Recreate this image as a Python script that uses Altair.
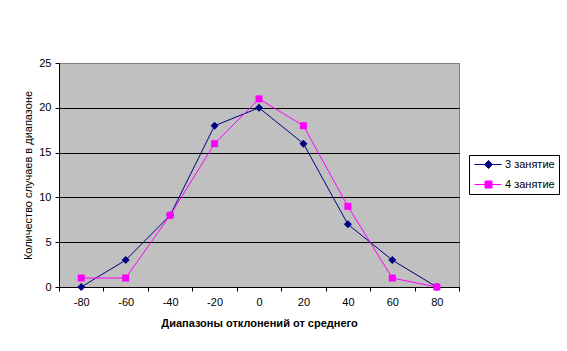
import altair as alt
import pandas as pd

categories = ["-80", "-60", "-40", "-20", "0", "20", "40", "60", "80"]
series_names = ["3 занятие", "4 занятие"]
values_3 = [0, 3, 8, 18, 20, 16, 7, 3, 0]
values_4 = [1, 1, 8, 16, 21, 18, 9, 1, 0]

rows = []
for c, v in zip(categories, values_3):
    rows.append({"cat": c, "value": v, "series": series_names[0]})
for c, v in zip(categories, values_4):
    rows.append({"cat": c, "value": v, "series": series_names[1]})
df = pd.DataFrame(rows)

colors = ["#000080", "#FF00FF"]
FONT = "Liberation Sans"

x_enc = alt.X(
    "cat:O",
    scale=alt.Scale(type="band", domain=categories, paddingInner=0, paddingOuter=0),
    axis=alt.Axis(
        title="Диапазоны отклонений от среднего",
        labelAngle=0,
        tickBand="extent",
        domainColor="black",
        tickColor="black",
        tickSize=4,
        labelPadding=5,
        labelFont=FONT,
        labelFontSize=11,
        labelColor="black",
        titleFont=FONT,
        titleFontSize=11,
        titleFontWeight="bold",
        titleColor="black",
        titlePadding=10,
        grid=False,
    ),
)
y_enc = alt.Y(
    "value:Q",
    scale=alt.Scale(domain=[0, 25], nice=False),
    axis=alt.Axis(
        title="Количество случаев в диапазоне",
        values=[0, 5, 10, 15, 20, 25],
        grid=True,
        gridColor={"expr": "datum.value == 25 ? '#808080' : '#000000'"},
        gridWidth=1,
        domainColor="black",
        tickColor="black",
        tickSize=4,
        labelPadding=4,
        labelFont=FONT,
        labelFontSize=11,
        labelColor="black",
        titleFont=FONT,
        titleFontSize=11,
        titleFontWeight="normal",
        titleColor="black",
        titlePadding=5,
    ),
)
color_scale = alt.Scale(domain=series_names, range=colors)

lines = alt.Chart(df).mark_line(strokeWidth=1).encode(
    x=x_enc, y=y_enc,
    color=alt.Color("series:N", scale=color_scale, legend=None),
)

pts3 = alt.Chart(df).transform_filter(alt.datum.series == series_names[0]).mark_point(
    shape="diamond", filled=True, size=64, opacity=1, color=colors[0]
).encode(x=x_enc, y=y_enc)

pts4 = alt.Chart(df).transform_filter(alt.datum.series == series_names[1]).mark_point(
    shape="square", filled=True, size=49, opacity=1, color=colors[1]
).encode(x=x_enc, y=y_enc)

legend_paths = [
    "M-0.8,0L4.6,0M2,-0.8L2.8,0L2,0.8L1.2,0Z",
    "M-0.8,0L4.6,0M1.3,-0.7L2.7,-0.7L2.7,0.7L1.3,0.7Z",
]
leg = alt.Legend(
    title=None,
    orient="none",
    legendX=410,
    legendY=92,
    strokeColor="black",
    fillColor="white",
    padding=4,
    symbolSize=100,
    symbolStrokeWidth=1,
    symbolOpacity=1,
    labelOffset=21,
    labelFont=FONT,
    labelFontSize=11,
    labelColor="black",
    rowPadding=7,
)
legend_layer = alt.Chart(df).mark_point(filled=True, size=100, opacity=0).encode(
    x=x_enc, y=y_enc,
    shape=alt.Shape("series:N", scale=alt.Scale(range=legend_paths), legend=leg),
    fill=alt.Fill("series:N", scale=alt.Scale(range=colors), legend=leg),
    stroke=alt.Stroke("series:N", scale=alt.Scale(range=colors), legend=leg),
)

chart = alt.layer(lines, pts3, pts4, legend_layer).properties(
    width=400,
    height=224,
    autosize=alt.AutoSizeParams(type="none"),
    padding={"left": 59, "top": 63, "right": 108, "bottom": 64},
    background="white",
).configure_view(
    fill="#C0C0C0", stroke="#808080", strokeWidth=1
)

chart.save("out.html", embed_options={"renderer": "svg", "actions": False})
